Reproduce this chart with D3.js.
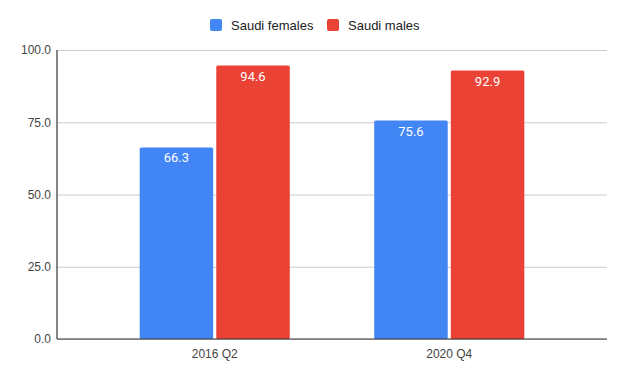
<!DOCTYPE html>
<html>
    <head>
        <style>
            body { margin: 0; background: #fff; }
            text { font-family: Arial, "Liberation Sans", sans-serif; }
            .tick text { font-size: 12px; fill: #444; }
            .legend text { font-size: 13px; fill: #222; }
            .val { font-family: Roboto, Arial, sans-serif; font-weight: 400; font-size: 13px; fill: #fff; text-anchor: middle; }
        </style>
        <script src="https://d3js.org/d3.v7.min.js"></script>
    </head>
    <body>
        <svg width="625" height="375"></svg>
        <script>
            var categories = ["2016 Q2", "2020 Q4"];
            var series = ["Saudi females", "Saudi males"];
            var females = [66.3, 75.6];
            var males = [94.6, 92.9];
            var yTicks = [0, 25, 50, 75, 100];
            var colors = ["#4285f4", "#ea4335"];

            var values = [females, males];

            var svg = d3.select("svg"),
                mLeft = 57, mRight = 607, mTop = 50, mBottom = 339;

            var x0 = d3.scaleBand().domain(categories).range([mLeft, mRight])
                       .paddingInner(0.36).paddingOuter(0.3525);
            var x1 = d3.scaleBand().domain(series).range([0, x0.bandwidth()]).paddingInner(0.04);
            var y = d3.scaleLinear().domain([0, 100]).range([mBottom, mTop]);

            // gridlines + y labels
            var yAxis = svg.append("g")
                .attr("transform", "translate(" + mLeft + ",0)")
                .call(d3.axisLeft(y).tickValues(yTicks).tickFormat(d3.format(".1f"))
                      .tickSize(-(mRight - mLeft)).tickPadding(6));
            yAxis.select(".domain").remove();
            yAxis.selectAll(".tick line").attr("stroke", "#ccc");

            // bars
            var groups = svg.selectAll(".grp")
                .data(categories)
                .enter().append("g")
                .attr("transform", function(d){ return "translate(" + x0(d) + ",0)"; });

            groups.selectAll("rect")
                .data(function(d, i){ return series.map(function(s, j){ return {s: s, v: values[j][i], j: j}; }); })
                .enter().append("rect")
                .attr("x", function(d){ return x1(d.s); })
                .attr("y", function(d){ return y(d.v); })
                .attr("width", x1.bandwidth())
                .attr("height", function(d){ return mBottom - y(d.v); })
                .attr("rx", 1.5)
                .attr("fill", function(d){ return colors[d.j]; });

            groups.selectAll(".val")
                .data(function(d, i){ return series.map(function(s, j){ return {s: s, v: values[j][i]}; }); })
                .enter().append("text")
                .attr("class", "val")
                .attr("x", function(d){ return x1(d.s) + x1.bandwidth() / 2; })
                .attr("y", function(d){ return y(d.v) + 15; })
                .text(function(d){ return d3.format(".1f")(d.v); });

            // axis lines
            svg.append("line").attr("x1", mLeft).attr("x2", mLeft).attr("y1", mTop).attr("y2", mBottom)
               .attr("stroke", "#333").attr("stroke-width", 1.2);
            svg.append("line").attr("x1", mLeft).attr("x2", mRight).attr("y1", mBottom).attr("y2", mBottom)
               .attr("stroke", "#333").attr("stroke-width", 1.2);

            // x labels
            var xAxis = svg.append("g")
                .attr("transform", "translate(0," + mBottom + ")")
                .call(d3.axisBottom(x0).tickSize(0).tickPadding(10));
            xAxis.select(".domain").remove();
            xAxis.selectAll(".tick text").attr("fill", "#222");

            // legend
            var legend = svg.append("g").attr("class", "legend");
            var lx = [210, 327];
            series.forEach(function(s, i){
                var g = legend.append("g").attr("transform", "translate(" + lx[i] + ",19)");
                g.append("rect").attr("width", 12).attr("height", 12).attr("rx", 2).attr("fill", colors[i]);
                g.append("text").attr("x", 21).attr("y", 11).text(s);
            });
        </script>
    </body>
</html>
